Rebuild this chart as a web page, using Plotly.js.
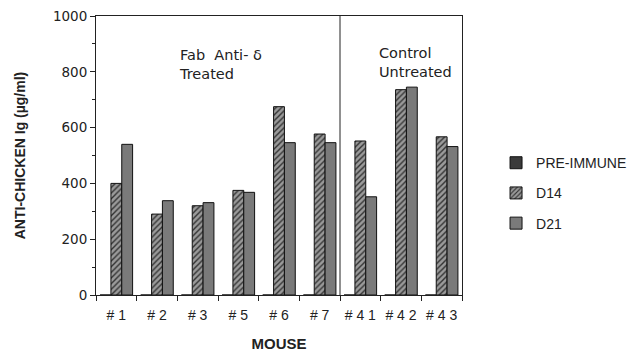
<!DOCTYPE html>
<html>
<head>
<meta charset="utf-8">
<script src="https://cdn.plot.ly/plotly-3.0.1.min.js"></script>
<style>html,body{margin:0;padding:0;background:#fff;}#chart{width:644px;height:356px;}</style>
</head>
<body>
<div id="chart"></div>
<script>
const mice = ['# 1', '# 2', '# 3', '# 5', '# 6', '# 7', '# 4 1', '# 4 2', '# 4 3'];
const preImmune = [0, 0, 0, 0, 0, 0, 0, 0, 0];
const d14 = [400, 290, 320, 375, 675, 577, 552, 736, 567];
const d21 = [540, 338, 331, 368, 546, 546, 352, 745, 532];
const yTicks = [0, 200, 400, 600, 800, 1000];

const lib = 'Liberation Sans, Arial, sans-serif';
const dvs = 'DejaVu Sans, sans-serif';
const ink = '#222';

const traces = [
  {type: 'bar', name: 'PRE-IMMUNE', x: mice, y: preImmune, legendgroup: 'a',
   marker: {color: '#3a3a3a', line: {color: '#111', width: 1}}},
  {type: 'bar', name: 'D14', x: mice, y: d14, legendgroup: 'b',
   marker: {color: '#8a8a8a', line: {color: '#111', width: 1},
            pattern: {shape: '/', fgcolor: '#333', bgcolor: '#9a9a9a', size: 4, solidity: 0.35}}},
  {type: 'bar', name: 'D21', x: mice, y: d21, legendgroup: 'c',
   marker: {color: '#7a7a7a', line: {color: '#111', width: 1}}}
];

const layout = {
  width: 644, height: 356,
  margin: {l: 96, r: 178, t: 16, b: 61},
  paper_bgcolor: '#fff', plot_bgcolor: '#fff',
  font: {family: lib, size: 13, color: ink},
  barmode: 'group', bargap: 0.2, bargroupgap: 0,
  showlegend: true,
  legend: {x: 1.093, y: 0.53, xanchor: 'left', yanchor: 'top', traceorder: 'grouped',
           tracegroupgap: 9, font: {family: lib, size: 14, color: ink}, bgcolor: 'rgba(0,0,0,0)'},
  xaxis: {
    type: 'category', showline: true, linecolor: ink, linewidth: 1, mirror: true,
    ticks: 'outside', tickson: 'boundaries', ticklen: 5, tickcolor: ink,
    showgrid: false, zeroline: false, range: [-0.5, 8.5],
    ticklabelstandoff: 7,
    tickfont: {family: lib, size: 14, color: ink},
    title: {text: '<b>MOUSE</b>', font: {family: lib, size: 15, color: ink}, standoff: 16}
  },
  yaxis: {
    range: [0, 1000], tickvals: yTicks, showline: true, linecolor: ink, linewidth: 1, mirror: true,
    ticks: 'outside', ticklen: 5, tickcolor: ink, showgrid: false, zeroline: false,
    minor: {dtick: 100, ticks: 'outside', ticklen: 3, tickcolor: ink},
    tickfont: {family: dvs, size: 13.5, color: ink},
    title: {text: '<b>ANTI-CHICKEN Ig (µg/ml)</b>', font: {family: lib, size: 14, color: ink}, standoff: 24}
  },
  shapes: [
    {type: 'line', xref: 'x', yref: 'paper', x0: 5.5, x1: 5.5, y0: 0, y1: 1,
     line: {color: ink, width: 1}}
  ],
  annotations: [
    {xref: 'paper', yref: 'paper', x: (178 - 96) / 370, y: (295 - 45) / 279, xanchor: 'left', yanchor: 'top',
     align: 'left', showarrow: false, text: 'Fab  Anti- δ<br>Treated', font: {family: dvs, size: 14.5, color: ink}},
    {xref: 'paper', yref: 'paper', x: (380 - 96) / 370, y: (295 - 43) / 279, xanchor: 'left', yanchor: 'top',
     align: 'left', showarrow: false, text: 'Control<br>Untreated', font: {family: dvs, size: 14.5, color: ink}}
  ]
};

Plotly.newPlot('chart', traces, layout, {displayModeBar: false, staticPlot: true});
</script>
</body>
</html>
